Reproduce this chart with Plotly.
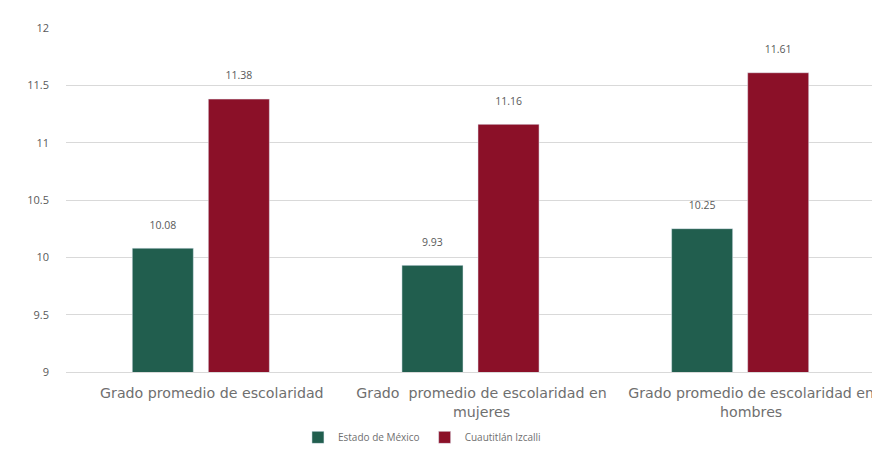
import plotly.graph_objects as go

categories = ["Grado promedio de escolaridad",
              "Grado  promedio de escolaridad en<br>mujeres",
              "Grado promedio de escolaridad en<br>hombres"]
estado = [10.08, 9.93, 10.25]
izcalli = [11.38, 11.16, 11.61]
y_ticks = [9, 9.5, 10, 10.5, 11, 11.5, 12]

font_fam = "'Open Sans', sans-serif"
gray = "#595959"
light_gray = "#6f6f6f"

def labels(vals):
    return [f"{v:.2f}<br> " for v in vals]

fig = go.Figure()
fig.add_trace(go.Bar(name="Estado de México", x=categories, y=estado,
                     marker_color="#215E4E", text=labels(estado),
                     textposition="outside", textfont=dict(size=10.5, color=gray),
                     cliponaxis=False))
fig.add_trace(go.Bar(name="Cuautitlán Izcalli", x=categories, y=izcalli,
                     marker_color="#8B1028", text=labels(izcalli),
                     textposition="outside", textfont=dict(size=10.5, color=gray),
                     cliponaxis=False))

fig.update_layout(
    width=872, height=459,
    margin=dict(l=58, r=5, t=20, b=95),
    paper_bgcolor="white", plot_bgcolor="white",
    barmode="group", bargap=0.436, bargroupgap=0.197,
    font=dict(family=font_fam, size=11, color=gray),
    legend=dict(orientation="h", x=0.44, xanchor="center", y=-0.19, yanchor="middle",
                font=dict(size=10, color=light_gray), itemwidth=30),
    yaxis=dict(range=[9, 12], tickvals=y_ticks, ticktext=[str(t) for t in y_ticks],
               showgrid=True, gridcolor="#d9d9d9", zeroline=False, automargin=False,
               tickfont=dict(size=11, color=gray), ticks="", ticklabelstandoff=16),
    xaxis=dict(showline=True, linecolor="#d9d9d9", automargin=False,
               tickfont=dict(family="'DejaVu Sans', sans-serif", size=14.2, color=light_gray),
               ticks="", ticklabelstandoff=8, ticklabelshift=11),
)
fig.update_traces(textangle=0)

fig.write_html("out.html")
